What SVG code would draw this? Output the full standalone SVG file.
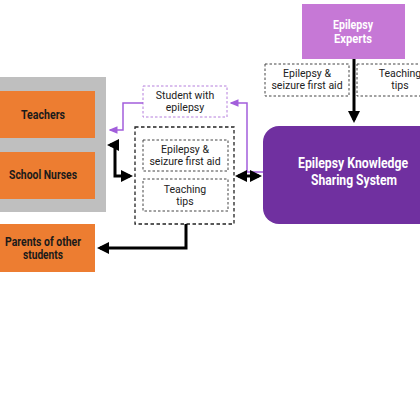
<svg xmlns="http://www.w3.org/2000/svg" width="420" height="420" viewBox="0 0 420 420">
<defs>
<style>
.org{fill:#ED7D31}
.lbl{font-family:Roboto,"Liberation Sans",sans-serif;font-weight:bold;font-size:12px;fill:#1a1a1a;text-anchor:middle}
.wht{font-family:Roboto,"Liberation Sans",sans-serif;font-weight:bold;fill:#ffffff;text-anchor:middle}
.txt{font-family:Roboto,"Liberation Sans",sans-serif;font-size:10.5px;fill:#222;text-anchor:middle}
.dash{fill:#ffffff;stroke:#444;stroke-width:1;stroke-dasharray:2.5 2}
.blk{fill:none;stroke:#000;stroke-width:3}
.pur{fill:none;stroke:#A25EDB;stroke-width:1.5}
</style>
<marker id="ab" markerWidth="4" markerHeight="4" refX="3" refY="2" orient="auto-start-reverse" markerUnits="strokeWidth">
<path d="M0,0 L4,2 L0,4 Z" fill="#000"/>
</marker>
<marker id="ap" markerWidth="6" markerHeight="6" refX="5" refY="3" orient="auto" markerUnits="strokeWidth">
<path d="M0,0.5 L6,3 L0,5.5 Z" fill="#A25EDB"/>
</marker>
</defs>
<rect width="420" height="420" fill="#ffffff"/>

<g id="group-school">
<rect x="0" y="77" width="106" height="135" fill="#BFBFBF"/>
</g>
<g id="node-teachers">
<rect class="org" x="0" y="91" width="95" height="47"/>
<text class="lbl" x="43" y="119" textLength="44" lengthAdjust="spacingAndGlyphs">Teachers</text>
</g>
<g id="node-nurses">
<rect class="org" x="0" y="152" width="95" height="47"/>
<text class="lbl" x="43" y="179" textLength="68" lengthAdjust="spacingAndGlyphs">School Nurses</text>
</g>
<g id="node-parents">
<rect class="org" x="0" y="224" width="95" height="48"/>
<text class="lbl" x="43" y="246" textLength="76" lengthAdjust="spacingAndGlyphs">Parents of other</text>
<text class="lbl" x="43" y="259" textLength="40" lengthAdjust="spacingAndGlyphs">students</text>
</g>

<g id="node-student">
<rect x="143" y="86" width="84" height="31" fill="#ffffff" stroke="#B57EDC" stroke-width="1" stroke-dasharray="2.5 2"/>
<text class="txt" x="185" y="99">Student with</text>
<text class="txt" x="185" y="111">epilepsy</text>
</g>

<g id="node-content">
<rect x="135" y="127" width="99" height="97" fill="#ffffff" stroke="#222" stroke-width="1.3" stroke-dasharray="3.5 2.5"/>
<rect class="dash" x="143" y="140" width="85" height="31"/>
<text class="txt" x="185" y="153">Epilepsy &amp;</text>
<text class="txt" x="185" y="165">seizure first aid</text>
<rect class="dash" x="143" y="179" width="85" height="32"/>
<text class="txt" x="185" y="193">Teaching</text>
<text class="txt" x="185" y="205">tips</text>
</g>

<g id="node-experts">
<rect x="302" y="4" width="103" height="55" fill="#C678D6"/>
<text class="wht" x="353" y="29" font-size="12" textLength="40" lengthAdjust="spacingAndGlyphs">Epilepsy</text>
<text class="wht" x="353" y="43" font-size="12" textLength="38" lengthAdjust="spacingAndGlyphs">Experts</text>
</g>

<g id="node-expert-firstaid">
<rect class="dash" x="265" y="64" width="84" height="32" stroke="#666"/>
<text class="txt" x="307" y="77">Epilepsy &amp;</text>
<text class="txt" x="307" y="89">seizure first aid</text>
</g>
<g id="node-expert-tips">
<rect class="dash" x="357" y="64" width="86" height="32" stroke="#666"/>
<text class="txt" x="400" y="77">Teaching</text>
<text class="txt" x="400" y="89">tips</text>
</g>

<g id="node-system">
<rect x="263" y="126" width="180" height="98" rx="16" fill="#7030A0"/>
<text class="wht" x="353" y="168" font-size="14.5" textLength="110" lengthAdjust="spacingAndGlyphs">Epilepsy Knowledge</text>
<text class="wht" x="354" y="185" font-size="14.5" textLength="86" lengthAdjust="spacingAndGlyphs">Sharing System</text>
</g>

<g id="connectors">
<path class="pur" d="M143,103 L123,103 L123,130 L110,130" marker-end="url(#ap)"/>
<path class="pur" d="M263,172 L247,172 L247,103 L231,103" marker-end="url(#ap)"/>
<path class="blk" d="M110,145 L115,145 L115,176 L130,176" marker-start="url(#ab)" marker-end="url(#ab)"/>
<path class="blk" d="M238,176 L259,176" marker-start="url(#ab)" marker-end="url(#ab)"/>
<path class="blk" d="M186,224 L186,248 L100,248" marker-end="url(#ab)"/>
<path class="blk" d="M354,59 L354,120" marker-end="url(#ab)"/>
</g>
</svg>
